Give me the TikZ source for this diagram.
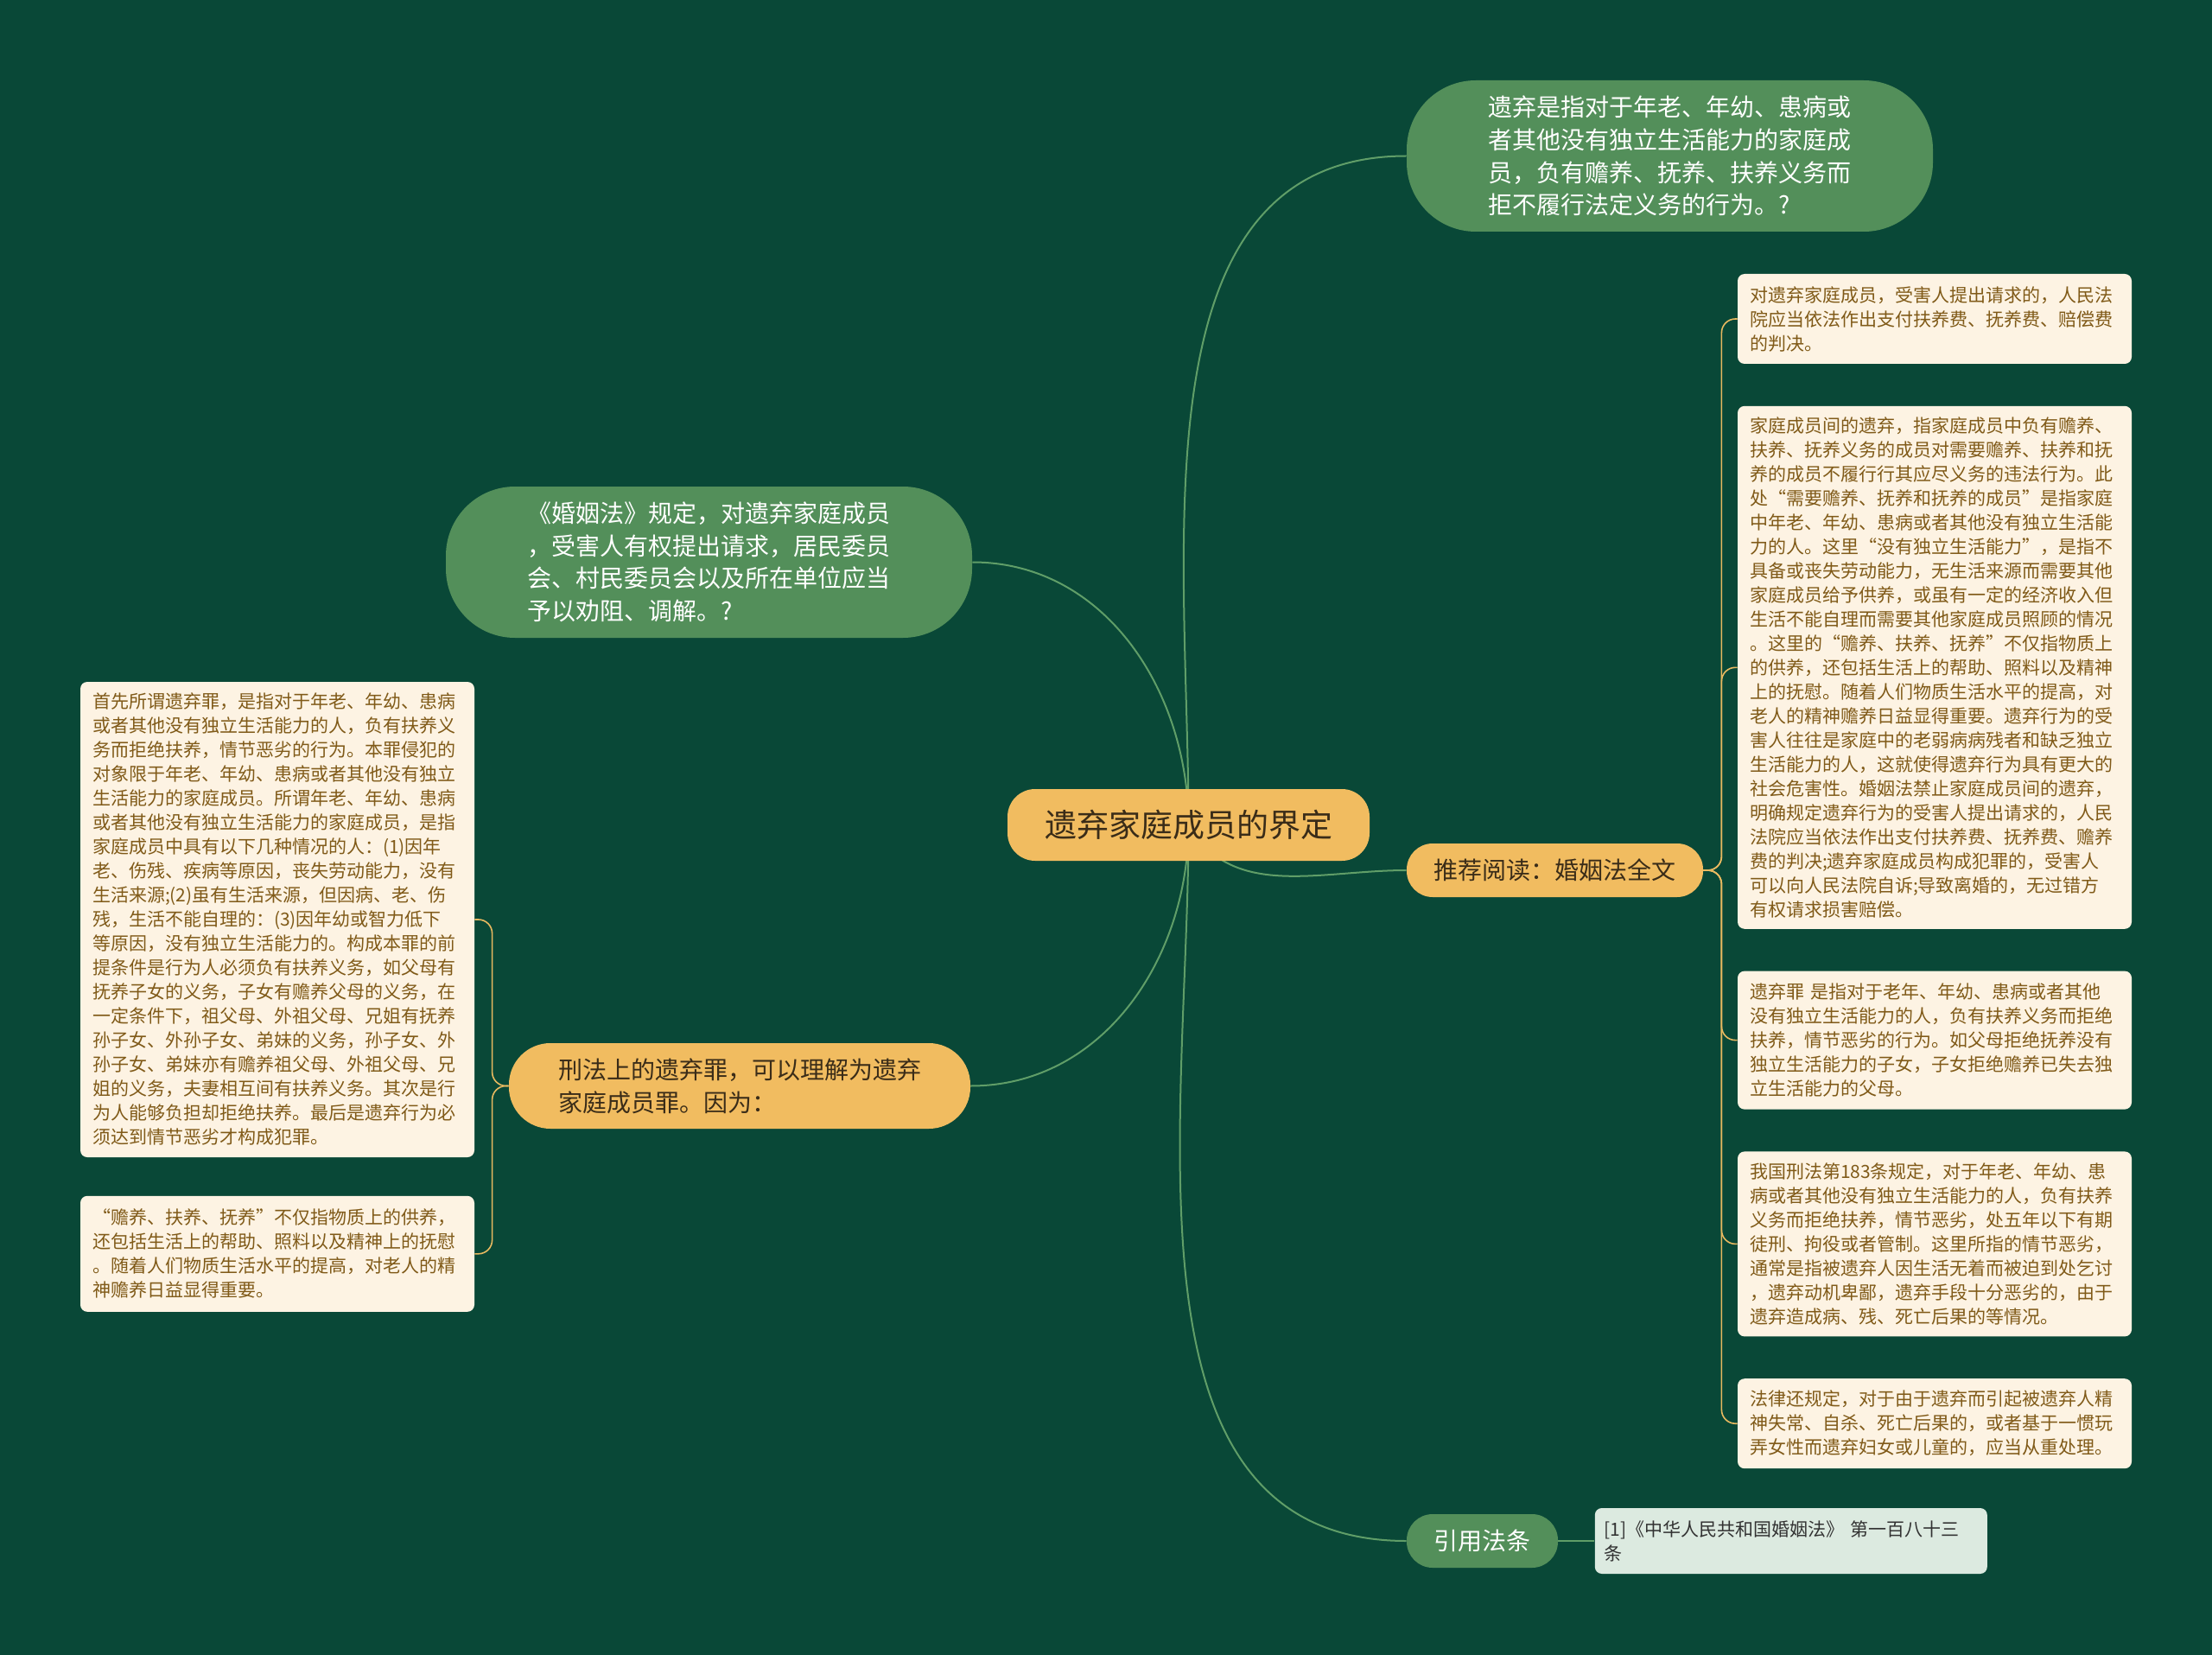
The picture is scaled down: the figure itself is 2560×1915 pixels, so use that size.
\documentclass[tikz,border=0pt]{standalone}
\usepackage{fontspec}
\setmainfont{Noto Sans CJK SC}
\usepackage{tikz}
\usetikzlibrary{positioning, backgrounds}
\definecolor{bgcol}{RGB}{9,72,55}
\definecolor{topicgreen}{RGB}{83,143,90}
\definecolor{linegreen}{RGB}{96,158,104}
\definecolor{rootorange}{RGB}{241,188,96}
\definecolor{rootink}{RGB}{58,44,24}
\definecolor{notefill}{RGB}{253,243,227}
\definecolor{noteink}{RGB}{128,90,24}
\definecolor{braceorange}{RGB}{232,185,96}
\definecolor{citefill}{RGB}{220,234,224}
\definecolor{citeink}{RGB}{50,50,50}
\tikzset{
    rootbox/.style={fill=rootorange, text=rootink, rounded corners=16pt, minimum width=209.5pt, minimum height=41.5pt, inner sep=0pt, font=\fontsize{18.5}{22}\selectfont},
    topicbox/.style={fill=topicgreen, text=white, rounded corners=40pt, minimum width=304.5pt, minimum height=87.5pt, inner sep=0pt, align=left, font=\fontsize{14}{18.8}\selectfont},
    keybox/.style={fill=rootorange, text=rootink, inner sep=0pt, align=left, font=\fontsize{14}{19}\selectfont},
    notebox/.style={fill=notefill, text=noteink, rounded corners=4pt, minimum width=228pt, text width=214pt, inner sep=0pt, align=left, font=\fontsize{10.5}{14}\selectfont},
    citebox/.style={fill=citefill, text=citeink, rounded corners=4pt, minimum width=227pt, text width=216pt, minimum height=38pt, inner sep=0pt, align=left, font=\fontsize{10.5}{14}\selectfont},
    link/.style={draw=linegreen, line width=1pt},
    brace/.style={draw=braceorange, line width=0.8pt, rounded corners=8pt},
}

\begin{document}
\begin{tikzpicture}[x=0.5pt, y=-0.5pt, node distance=24pt]
    \begin{scope}[on background layer]
        \fill[bgcol] (0,0) rectangle (2560,1915);
    \end{scope}
    \useasboundingbox (0,0) rectangle (2560,1915);

    \node[rootbox] (v0) at (1375.5,954.5) {遗弃家庭成员的界定};
    \node[topicbox] (v1) at (1932.5,180.5) {遗弃是指对于年老、年幼、患病或\\者其他没有独立生活能力的家庭成\\员，负有赡养、抚养、扶养义务而\\拒不履行法定义务的行为。?};
    \node[topicbox] (v2) at (820.5,650.5) {《婚姻法》规定，对遗弃家庭成员\\，受害人有权提出请求，居民委员\\会、村民委员会以及所在单位应当\\予以劝阻、调解。?};
    \node[keybox, minimum width=267pt, minimum height=49.5pt, rounded corners=24pt] (v3) at (856,1256.5) {刑法上的遗弃罪，可以理解为遗弃\\家庭成员罪。因为：};
    \node[keybox, minimum width=171.5pt, minimum height=31pt, rounded corners=15pt] (v4) at (1799.5,1007) {推荐阅读：婚姻法全文};
    \node[topicbox, minimum width=87.5pt, minimum height=31pt, rounded corners=15pt] (v5) at (1715.5,1783) {引用法条};
    \node[citebox] (c1) [right=21pt of v5] {[1]《中华人民共和国婚姻法》 第一百八十三\\条};

    \node[notebox, minimum height=52pt] (r1) at (2239,369) {对遗弃家庭成员，受害人提出请求的，人民法\\院应当依法作出支付扶养费、抚养费、赔偿费\\的判决。};
    \node[notebox, minimum height=302.5pt] (r2) [below=of r1] {家庭成员间的遗弃，指家庭成员中负有赡养、\\扶养、抚养义务的成员对需要赡养、扶养和抚\\养的成员不履行行其应尽义务的违法行为。此\\处“需要赡养、抚养和抚养的成员”是指家庭\\中年老、年幼、患病或者其他没有独立生活能\\力的人。这里“没有独立生活能力”，是指不\\具备或丧失劳动能力，无生活来源而需要其他\\家庭成员给予供养，或虽有一定的经济收入但\\生活不能自理而需要其他家庭成员照顾的情况\\。这里的“赡养、扶养、抚养”不仅指物质上\\的供养，还包括生活上的帮助、照料以及精神\\上的抚慰。随着人们物质生活水平的提高，对\\老人的精神赡养日益显得重要。遗弃行为的受\\害人往往是家庭中的老弱病病残者和缺乏独立\\生活能力的人，这就使得遗弃行为具有更大的\\社会危害性。婚姻法禁止家庭成员间的遗弃，\\明确规定遗弃行为的受害人提出请求的，人民\\法院应当依法作出支付扶养费、抚养费、赡养\\费的判决;遗弃家庭成员构成犯罪的，受害人\\可以向人民法院自诉;导致离婚的，无过错方\\有权请求损害赔偿。};
    \node[notebox, minimum height=80pt] (r3) [below=of r2] {遗弃罪 是指对于老年、年幼、患病或者其他\\没有独立生活能力的人，负有扶养义务而拒绝\\扶养，情节恶劣的行为。如父母拒绝抚养没有\\独立生活能力的子女，子女拒绝赡养已失去独\\立生活能力的父母。};
    \node[notebox, minimum height=107pt] (r4) [below=of r3] {我国刑法第183条规定，对于年老、年幼、患\\病或者其他没有独立生活能力的人，负有扶养\\义务而拒绝扶养，情节恶劣，处五年以下有期\\徒刑、拘役或者管制。这里所指的情节恶劣，\\通常是指被遗弃人因生活无着而被迫到处乞讨\\，遗弃动机卑鄙，遗弃手段十分恶劣的，由于\\遗弃造成病、残、死亡后果的等情况。};
    \node[notebox, minimum height=52pt] (r5) [below=of r4] {法律还规定，对于由于遗弃而引起被遗弃人精\\神失常、自杀、死亡后果的，或者基于一惯玩\\弄女性而遗弃妇女或儿童的，应当从重处理。};

    \node[notebox, minimum height=275pt] (l1) at (321,1064) {首先所谓遗弃罪，是指对于年老、年幼、患病\\或者其他没有独立生活能力的人，负有扶养义\\务而拒绝扶养，情节恶劣的行为。本罪侵犯的\\对象限于年老、年幼、患病或者其他没有独立\\生活能力的家庭成员。所谓年老、年幼、患病\\或者其他没有独立生活能力的家庭成员，是指\\家庭成员中具有以下几种情况的人：(1)因年\\老、伤残、疾病等原因，丧失劳动能力，没有\\生活来源;(2)虽有生活来源，但因病、老、伤\\残，生活不能自理的：(3)因年幼或智力低下\\等原因，没有独立生活能力的。构成本罪的前\\提条件是行为人必须负有扶养义务，如父母有\\抚养子女的义务，子女有赡养父母的义务，在\\一定条件下，祖父母、外祖父母、兄姐有抚养\\孙子女、外孙子女、弟妹的义务，孙子女、外\\孙子女、弟妹亦有赡养祖父母、外祖父母、兄\\姐的义务，夫妻相互间有扶养义务。其次是行\\为人能够负担却拒绝扶养。最后是遗弃行为必\\须达到情节恶劣才构成犯罪。};
    \node[notebox, minimum height=67pt] (l2) [below=22pt of l1] {“赡养、扶养、抚养”不仅指物质上的供养，\\还包括生活上的帮助、照料以及精神上的抚慰\\。随着人们物质生活水平的提高，对老人的精\\神赡养日益显得重要。};

    \coordinate[right=10.5pt of v4.east] (jr);
    \coordinate[left=9.5pt of v3.west] (jl);

    \begin{scope}[on background layer]
        \draw[link] (v0.center) to[out=90,in=180] (v1.west);
        \draw[link] (v0.center) to[out=90,in=0] (v2.east);
        \draw[link] (v0.center) to[out=-90,in=0] (v3.east);
        \draw[link] (v0.center) to[out=-60,in=180] (v4.west);
        \draw[link] (v0.center) to[out=-90,in=180] (v5.west);
    \end{scope}
    \draw[link] (v5.east) -- (c1.west);

    \foreach \n in {r1,r2,r3,r4,r5}
        \draw[brace] (v4.east) -- (jr) |- (\n.west);
    \foreach \n in {l1,l2}
        \draw[brace] (v3.west) -- (jl) |- (\n.east);

\end{tikzpicture}
\end{document}
